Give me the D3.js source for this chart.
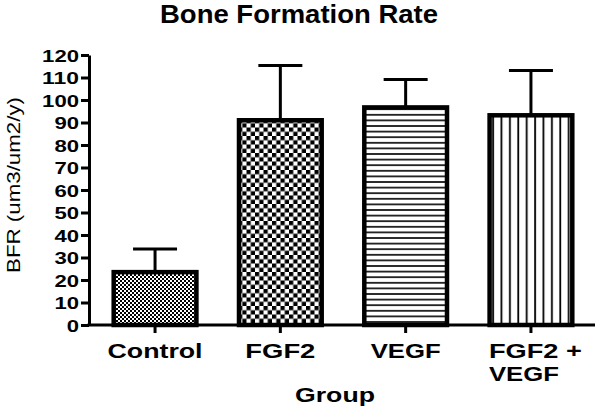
<!DOCTYPE html>
<html><head><meta charset="utf-8">
<script src="https://cdn.jsdelivr.net/npm/d3@7"></script>
<style>body{margin:0;background:#fff}svg{display:block}</style>
</head><body>
<svg id="chart" width="600" height="408"></svg>
<script>
const categories = ["Control", "FGF2", "VEGF", "FGF2 + VEGF"];
const categoryLines = [["Control"], ["FGF2"], ["VEGF"], ["FGF2 +", "VEGF"]];
const means = [23.5, 91.0, 96.7, 93.2];
const errors = [10.3, 24.3, 12.4, 19.9];
const yTicks = [0, 10, 20, 30, 40, 50, 60, 70, 80, 90, 100, 110, 120];
const patternIds = ["pFine", "pChecker", "pHoriz", "pVert"];

const svg = d3.select("#chart");
const font = "'Liberation Sans', Arial, sans-serif";
const axisX = 89, y0 = 325, yTop = 55, xEnd = 595;

const y = d3.scaleLinear().domain([0, 120]).range([y0, yTop]);
const x = d3.scaleBand().domain(categories).range([92.4, 593.6]).paddingInner(0.34).paddingOuter(0.17);

// patterns
const defs = svg.append("defs");
function pat(id, w, h) {
  const p = defs.append("pattern").attr("id", id).attr("patternUnits", "userSpaceOnUse")
    .attr("width", w).attr("height", h);
  p.append("rect").attr("width", w).attr("height", h).attr("fill", "#fff");
  return p;
}
let p = pat("pFine", 4, 4);
p.append("rect").attr("x", 0).attr("y", 0).attr("width", 2).attr("height", 2).attr("fill", "#000");
p.append("rect").attr("x", 2).attr("y", 2).attr("width", 2).attr("height", 2).attr("fill", "#000");
p = pat("pChecker", 8.5, 8.5);
p.append("rect").attr("x", 0).attr("y", 0).attr("width", 4.25).attr("height", 4.25).attr("fill", "#000");
p.append("rect").attr("x", 4.25).attr("y", 4.25).attr("width", 4.25).attr("height", 4.25).attr("fill", "#000");
p = pat("pHoriz", 10, 5.6);
p.append("rect").attr("x", 0).attr("y", 2).attr("width", 10).attr("height", 1.6).attr("fill", "#000");
p = pat("pVert", 8.4, 10);
p.attr("x", 2);
p.append("rect").attr("x", 3).attr("y", 0).attr("width", 1.8).attr("height", 10).attr("fill", "#000");

// title
svg.append("text").attr("x", 299).attr("y", 23).attr("text-anchor", "middle")
  .attr("font-family", font).attr("font-weight", "bold").attr("font-size", 25)
  .attr("textLength", 278).attr("lengthAdjust", "spacingAndGlyphs")
  .text("Bone Formation Rate");

// error bars (behind bars)
const eb = svg.append("g");
categories.forEach((c, i) => {
  const cx = x(c) + x.bandwidth() / 2;
  eb.append("line").attr("x1", cx).attr("x2", cx).attr("y1", y(means[i])).attr("y2", y(means[i] + errors[i]))
    .attr("stroke", "#000").attr("stroke-width", 3);
  eb.append("line").attr("x1", cx - 22).attr("x2", cx + 22)
    .attr("y1", y(means[i] + errors[i])).attr("y2", y(means[i] + errors[i]))
    .attr("stroke", "#000").attr("stroke-width", 3);
});

// bars
svg.append("g").selectAll("rect").data(categories).join("rect")
  .attr("x", d => x(d)).attr("width", x.bandwidth())
  .attr("y", (d, i) => y(means[i])).attr("height", (d, i) => y0 - y(means[i]))
  .attr("fill", (d, i) => `url(#${patternIds[i]})`)
  .attr("stroke", "#000").attr("stroke-width", 4.5);

// y axis
const gy = svg.append("g").attr("transform", `translate(${axisX},0)`)
  .call(d3.axisLeft(y).tickValues(yTicks).tickSize(8).tickSizeOuter(0).tickPadding(2));
gy.select(".domain").attr("stroke", "#000").attr("stroke-width", 3);
gy.selectAll(".tick line").attr("stroke", "#000").attr("stroke-width", 3);
gy.selectAll(".tick text").attr("font-family", font).attr("font-weight", "bold").attr("font-size", 17)
  .attr("fill", "#000").attr("dy", "0.36em")
  .attr("textLength", d => String(d).length * 12.3).attr("lengthAdjust", "spacingAndGlyphs");

// x axis
const gx = svg.append("g").attr("transform", `translate(0,${y0})`)
  .call(d3.axisBottom(x).tickSize(8).tickSizeOuter(0).tickFormat(""));
gx.select(".domain").remove();
gx.selectAll(".tick line").attr("stroke", "#000").attr("stroke-width", 3);
gx.append("line").attr("x1", axisX - 1.5).attr("x2", xEnd).attr("y1", 0).attr("y2", 0)
  .attr("stroke", "#000").attr("stroke-width", 3);

categories.forEach((c, i) => {
  const cx = x(c) + x.bandwidth() / 2;
  const lines = categoryLines[i];
  const multi = lines.length > 1;
  lines.forEach((ln, j) => {
    const w = ln === "Control" ? 95 : ln === "FGF2 +" ? 93 : ln.length * 17.5;
    svg.append("text").attr("font-family", font).attr("font-weight", "bold").attr("font-size", multi ? 20 : 21)
      .attr("text-anchor", multi ? "start" : "middle")
      .attr("x", multi ? cx - 42 : cx).attr("y", 358 + j * 23)
      .attr("textLength", w).attr("lengthAdjust", "spacingAndGlyphs")
      .text(ln);
  });
});

// axis titles
svg.append("text").attr("x", 335).attr("y", 402).attr("text-anchor", "middle")
  .attr("font-family", font).attr("font-weight", "bold").attr("font-size", 21)
  .attr("textLength", 80).attr("lengthAdjust", "spacingAndGlyphs").text("Group");
svg.append("text").attr("transform", "translate(20,185) rotate(-90)").attr("text-anchor", "middle")
  .attr("font-family", font).attr("font-size", 19)
  .attr("textLength", 176).attr("lengthAdjust", "spacingAndGlyphs").text("BFR (um3/um2/y)");
</script>
</body></html>
